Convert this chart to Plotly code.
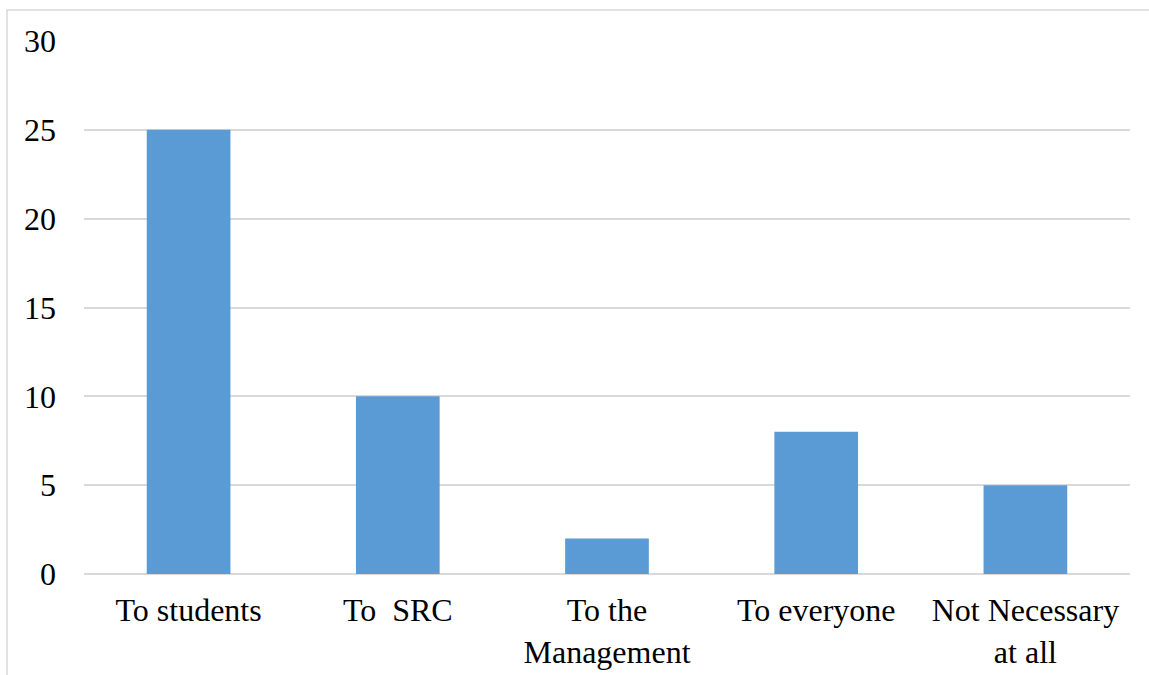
import plotly.graph_objects as go

categories = ["To students", "To  SRC", "To the<br>Management", "To everyone", "Not Necessary<br>at all"]
responses = [25, 10, 2, 8, 5]

W, H = 1149, 675
L, R, T, B = 84, 19, 41, 101
pw, ph = W - L - R, H - T - B

fig = go.Figure(go.Bar(x=categories, y=responses, marker=dict(color="#5b9bd5", line=dict(width=0))))

font = dict(family="Liberation Serif", size=32, color="#000000")

fig.update_layout(
    width=W, height=H,
    margin=dict(l=L, r=R, t=T, b=B),
    paper_bgcolor="white", plot_bgcolor="white",
    bargap=0.6,
    showlegend=False,
    font=font,
    xaxis=dict(showgrid=False, showline=False, ticks="", tickfont=font,
               ticklabelstandoff=14, automargin=False),
    yaxis=dict(range=[0, 30], dtick=5, showgrid=True, gridcolor="#d9d9d9", gridwidth=1.5,
               zeroline=True, zerolinecolor="#d9d9d9", zerolinewidth=1.5,
               showline=False, ticks="", tickfont=font, ticklabelstandoff=27, automargin=False),
    shapes=[dict(type="rect", xref="paper", yref="paper",
                 x0=(7 - L) / pw, x1=1.2, y0=-0.5, y1=(H - B - 10) / ph,
                 line=dict(color="#d9d9d9", width=1.5), fillcolor="rgba(0,0,0,0)")],
)

fig.write_html("out.html")
